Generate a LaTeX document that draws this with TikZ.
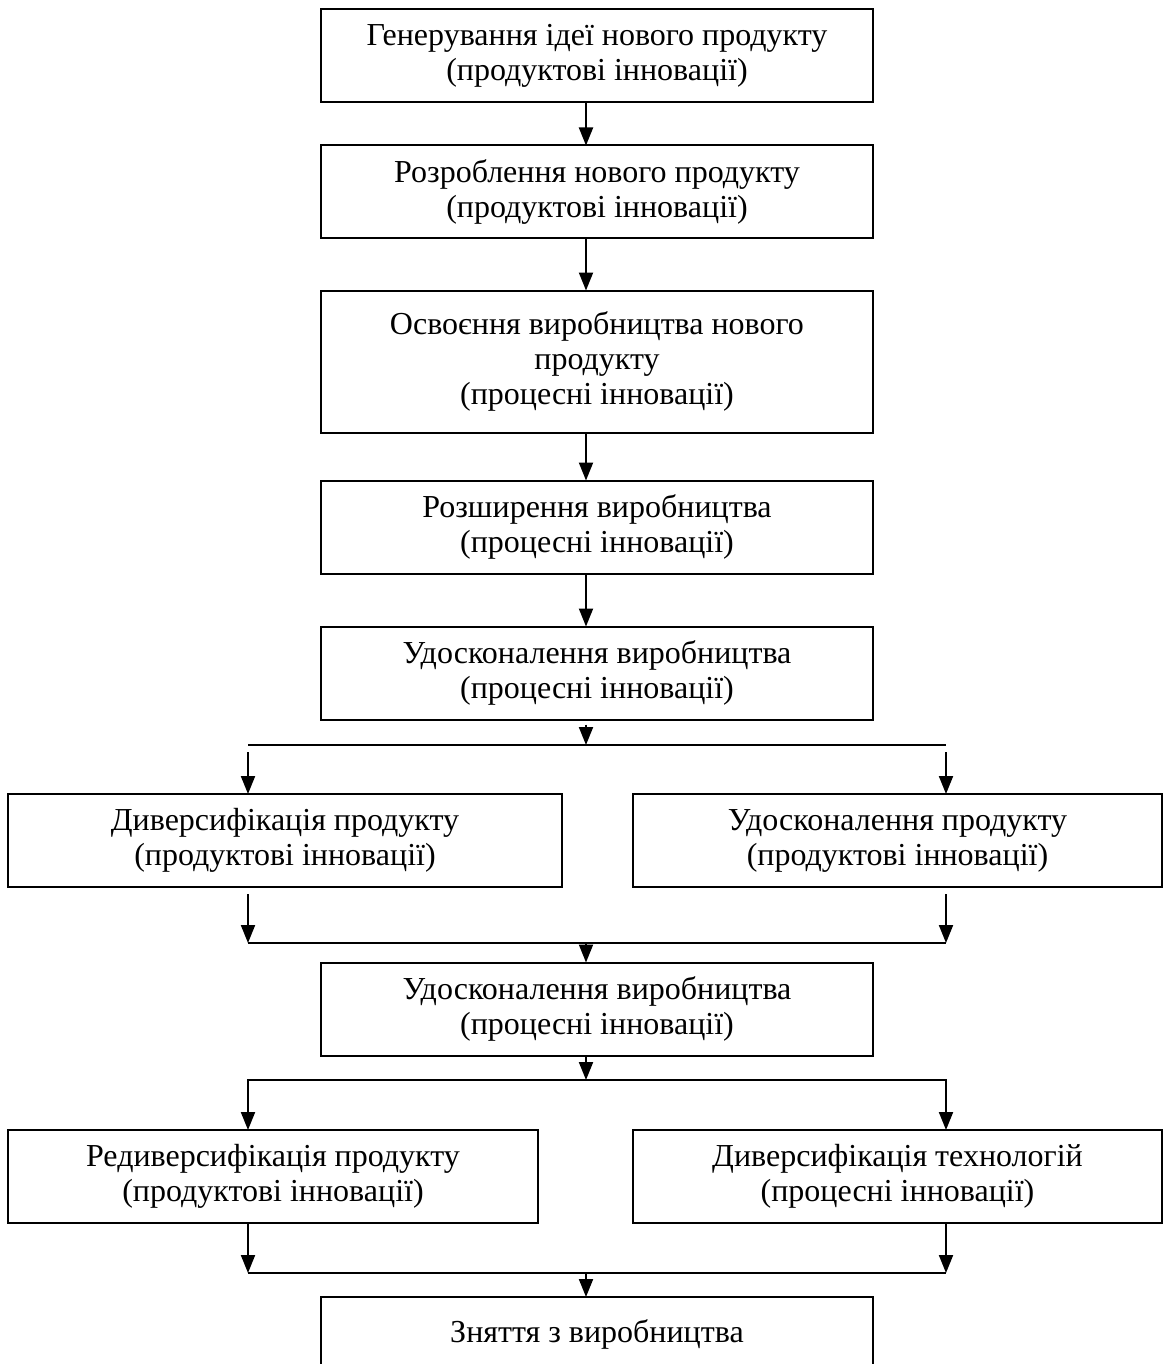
\documentclass[tikz,border=0pt]{standalone}
\usepackage{fontspec}
\setmainfont{Liberation Serif}
\usetikzlibrary{arrows.meta,positioning}

\begin{document}
\begin{tikzpicture}[>={Triangle[width=14pt,length=18pt]},x=1pt,y=-1pt,line width=2pt]
  \tikzstyle{stage}=[rectangle,draw,line width=2pt,align=center,minimum width=552pt,minimum height=93pt,inner sep=0pt,outer sep=0pt,font=\fontsize{32}{35}\selectfont]
  \useasboundingbox (0,0) rectangle (1175,1364);
  \coordinate (mid) at (586,0);
  \coordinate (lft) at (248,0);
  \coordinate (rgt) at (946,0);
  % main column
  \node[stage] (gen) at (597,56) {Генерування ідеї нового продукту\\(продуктові інновації)};
  \node[stage,below=43pt of gen] (dev) {Розроблення нового продукту\\(продуктові інновації)};
  \node[stage,minimum height=142pt,below=52pt of dev] (mast) {Освоєння виробництва нового\\продукту\\(процесні інновації)};
  \node[stage,below=48pt of mast] (ext) {Розширення виробництва\\(процесні інновації)};
  \node[stage,below=53pt of ext] (impA) {Удосконалення виробництва\\(процесні інновації)};
  \node[stage,minimum width=554pt] (divp) at (285,840.5) {Диверсифікація продукту\\(продуктові інновації)};
  \node[stage,minimum width=529pt] (impp) at (897.5,840.5) {Удосконалення продукту\\(продуктові інновації)};
  \node[stage] (impB) at (597,1009) {Удосконалення виробництва\\(процесні інновації)};
  \node[stage,minimum width=530pt] (redp) at (273,1176.5) {Редиверсифікація продукту\\(продуктові інновації)};
  \node[stage,minimum width=529pt] (divt) at (897.5,1176.5) {Диверсифікація технологій\\(процесні інновації)};
  \node[stage,minimum height=75pt] (stop) at (597,1334.5) {Зняття з виробництва};
  % bus lines
  \coordinate (a1) at (248,745); \coordinate (a2) at (946,745);
  \coordinate (b1) at (248,943); \coordinate (b2) at (946,943);
  \coordinate (c1) at (248,1080); \coordinate (c2) at (946,1080);
  \coordinate (d1) at (248,1273); \coordinate (d2) at (946,1273);
  \draw[->] (gen.south -| mid) -- (dev.north -| mid);
  \draw[->] (dev.south -| mid) -- (mast.north -| mid);
  \draw[->] (mast.south -| mid) -- (ext.north -| mid);
  \draw[->] (ext.south -| mid) -- (impA.north -| mid);
  \draw (a1) -- (a2);
  \draw[->,shorten <=5pt] (impA.south -| mid) -- (a1 -| mid);
  \draw[->,shorten <=7pt] (a1) -- (divp.north -| lft);
  \draw[->,shorten <=7pt] (a2) -- (impp.north -| rgt);
  \draw[->,shorten <=7pt] (divp.south -| lft) -- (b1);
  \draw[->,shorten <=7pt] (impp.south -| rgt) -- (b2);
  \draw (b1) -- (b2);
  \draw[->] (b1 -| mid) -- (impB.north -| mid);
  \draw[->] (impB.south -| mid) -- (c1 -| mid);
  \draw[<->] (redp.north -| lft) -- (c1) -- (c2) -- (divt.north -| rgt);
  \draw[->] (redp.south -| lft) -- (d1);
  \draw[->] (divt.south -| rgt) -- (d2);
  \draw (d1) -- (d2);
  \draw[->] (d1 -| mid) -- (stop.north -| mid);
\end{tikzpicture}
\end{document}
